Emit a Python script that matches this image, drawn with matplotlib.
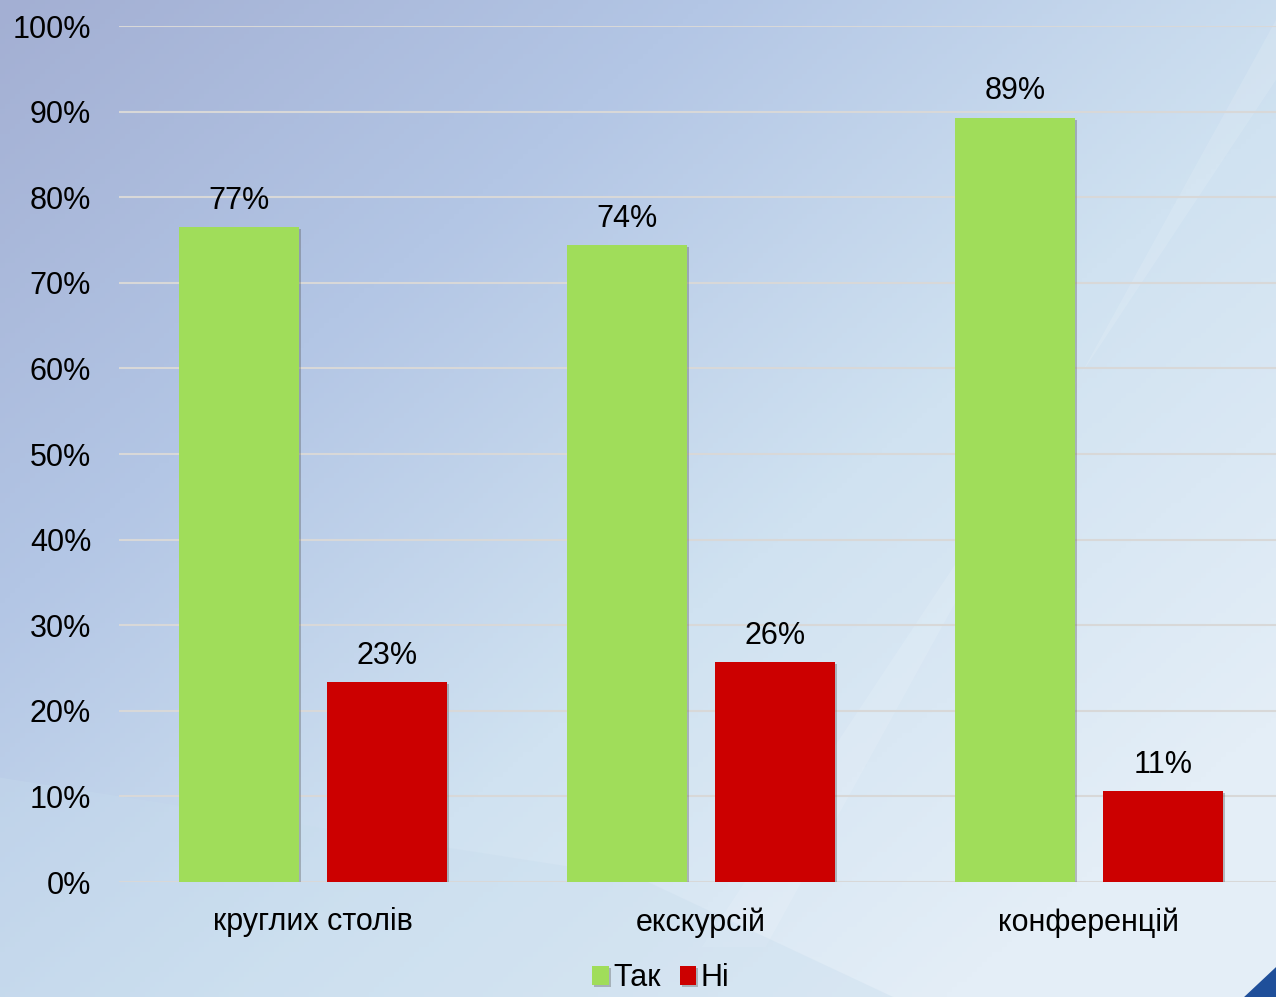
import numpy as np
import matplotlib
matplotlib.use("Agg")
import matplotlib.pyplot as plt
import matplotlib.patheffects as pe
from matplotlib.colors import LinearSegmentedColormap

plt.rcParams["font.family"] = ["Liberation Sans", "DejaVu Sans"]

categories = ["круглих столів", "екскурсій", "конференцій"]
yes_vals = [76.5, 74.4, 89.3]
no_vals = [23.4, 25.7, 10.6]
yes_labels = ["77%", "74%", "89%"]
no_labels = ["23%", "26%", "11%"]
series_names = ["Так", "Ні"]
yticks = list(range(0, 101, 10))

W, H = 1276, 997
FS = 22
fig = plt.figure(figsize=(W / 100, H / 100), dpi=100)

# background gradient (bluish top-left -> pale right / bottom)
bg = fig.add_axes([0, 0, 1, 1])
yy, xx = np.mgrid[0:1:200j, 0:1:256j]
t = np.clip(0.6 * xx + 0.55 * yy, 0, 1)
cmap = LinearSegmentedColormap.from_list("bgc", ["#a3afd3", "#b3c6e5", "#d0e2f1", "#e4eef7"])
bg.imshow(t, cmap=cmap, aspect="auto", extent=[0, 1, 0, 1], origin="upper")
# faint diagonal light streaks
bg.fill([0.55, 1.0, 1.0, 0.6], [0.05, 0.92, 0.98, 0.05], color="white", alpha=0.12, lw=0)
bg.fill([0.0, 0.5, 0.7, 0.0], [0.22, 0.12, 0.0, 0.0], color="#c7dced", alpha=0.35, lw=0)
# dark blue swoosh in bottom-right corner
bg.fill([0.975, 1.0, 1.0, 0.955], [0.0, 0.03, 0.0, 0.0], color="#1f4f9a", lw=0)
bg.set_xlim(0, 1)
bg.set_ylim(0, 1)
bg.axis("off")

# axes: x from 119px to 1283px, y from 882px (0%) to 26px (100%)
left, right = 119 / W, 1283 / W
bottom, top = 1 - 882 / H, 1 - 26 / H
ax = fig.add_axes([left, bottom, right - left, top - bottom])
ax.patch.set_alpha(0)

x = np.arange(len(categories))
bw = 0.309
off = 0.19
green, red = "#a0dd5a", "#cc0000"
shadow = [pe.SimplePatchShadow(offset=(1.5, -1.5), alpha=0.35, shadow_rgbFace="#555555"), pe.Normal()]
b1 = ax.bar(x - off, yes_vals, bw, color=green, label=series_names[0], zorder=3, path_effects=shadow)
b2 = ax.bar(x + off, no_vals, bw, color=red, label=series_names[1], zorder=3, path_effects=shadow)

for rect, lab in zip(b1, yes_labels):
    ax.text(rect.get_x() + rect.get_width() / 2, rect.get_height() + 1.3, lab,
            ha="center", va="bottom", fontsize=FS)
for rect, lab in zip(b2, no_labels):
    ax.text(rect.get_x() + rect.get_width() / 2, rect.get_height() + 1.3, lab,
            ha="center", va="bottom", fontsize=FS)

ax.set_xlim(-0.5, len(categories) - 0.5)
ax.set_ylim(0, 100)
ax.set_yticks(yticks)
ax.set_yticklabels([f"{v}%" for v in yticks], fontsize=FS)
ax.set_xticks(x)
ax.set_xticklabels(categories, fontsize=FS)
ax.tick_params(length=0)
ax.tick_params(axis="y", pad=20)
ax.tick_params(axis="x", pad=18)
ax.grid(axis="y", color="#d8d8d8", lw=1.5, zorder=1)
for s in ax.spines.values():
    s.set_visible(False)

leg = fig.legend(handles=[b1, b2], labels=series_names, loc="lower center",
                 bbox_to_anchor=(0.518, -0.024), ncol=2, frameon=False, fontsize=FS,
                 handlelength=0.55, handleheight=0.55, handletextpad=0.15, columnspacing=0.6)

fig.savefig("out.png", dpi=100)
